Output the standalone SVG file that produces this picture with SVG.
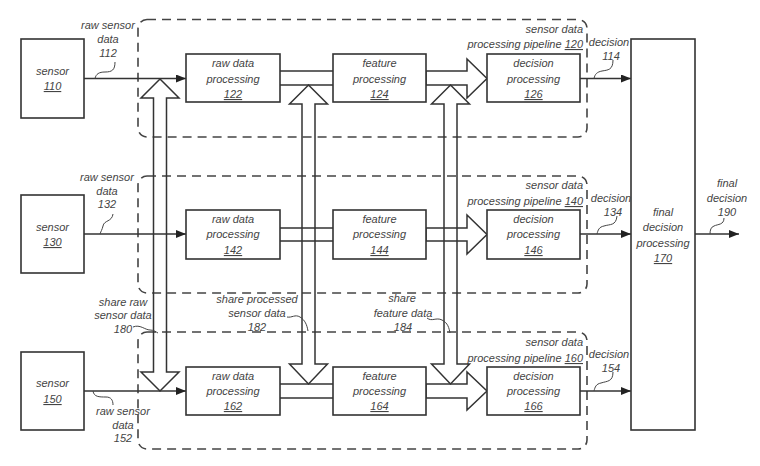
<svg xmlns="http://www.w3.org/2000/svg" width="760" height="466" viewBox="0 0 760 466">
<defs>
<style>
.box{fill:#fff;stroke:#333;stroke-width:1.6}
.pipe{fill:none;stroke:#444;stroke-width:1.6;stroke-dasharray:9 6}
.fat{fill:none;stroke:#333;stroke-width:1.5;stroke-linejoin:miter}
.ln{fill:none;stroke:#333;stroke-width:1.4}
.lead{fill:none;stroke:#444;stroke-width:1}
text{font-family:"Liberation Sans",Arial,sans-serif;font-size:11px;font-style:italic;fill:#444;text-anchor:middle}
.r{text-anchor:end}
.u{text-decoration:underline}
</style>
<marker id="ah" viewBox="0 0 10 8" refX="10" refY="4" markerWidth="11" markerHeight="8" orient="auto" markerUnits="userSpaceOnUse"><path d="M0,0 L10,4 L0,8 z" fill="#222"/></marker>
</defs>
<rect width="760" height="466" fill="#fff"/>

<g id="pipeline120"><rect class="pipe" x="138" y="19.5" width="449" height="117.5" rx="9"/>
<text class="r" x="583" y="33">sensor data</text>
<text class="r" x="583" y="48">processing pipeline <tspan class="u">120</tspan></text></g>
<g id="pipeline140"><rect class="pipe" x="138" y="176" width="449" height="117" rx="9"/>
<text class="r" x="583" y="189">sensor data</text>
<text class="r" x="583" y="205">processing pipeline <tspan class="u">140</tspan></text></g>
<g id="pipeline160"><rect class="pipe" x="138" y="332" width="449" height="117" rx="9"/>
<text class="r" x="583" y="346">sensor data</text>
<text class="r" x="583" y="362">processing pipeline <tspan class="u">160</tspan></text></g>

<g id="connectors">
<line class="ln" x1="84" y1="78.5" x2="186" y2="78.5" marker-end="url(#ah)"/>
<line class="ln" x1="84" y1="234" x2="186" y2="234" marker-end="url(#ah)"/>
<line class="ln" x1="84" y1="391" x2="186" y2="391" marker-end="url(#ah)"/>
<line class="ln" x1="580" y1="78.5" x2="631" y2="78.5" marker-end="url(#ah)"/>
<line class="ln" x1="580" y1="234" x2="631" y2="234" marker-end="url(#ah)"/>
<line class="ln" x1="580" y1="391" x2="631" y2="391" marker-end="url(#ah)"/>
<line class="ln" x1="695" y1="234" x2="739" y2="234" marker-end="url(#ah)"/>
<!-- fat horizontal bands -->
<path class="fat" d="M280,71 H333 M280,85 H333"/>
<path class="fat" d="M280,228 H333 M280,241 H333"/>
<path class="fat" d="M280,384 H333 M280,398 H333"/>
<polygon class="fat" points="426,71 467,71 467,59 487,78.5 467,98 467,85 426,85"/>
<polygon class="fat" points="426,228 467,228 467,215 487,234.5 467,254 467,241 426,241"/>
<polygon class="fat" points="426,384 467,384 467,372 487,391 467,410 467,398 426,398"/>
<!-- vertical double arrows -->
<polygon class="fat" points="160,79 179,98 166.5,98 166.5,372 179,372 160,391 141,372 153.5,372 153.5,98 141,98"/>
<polygon class="fat" points="308.5,85 327.5,104 315,104 315,364 327.5,364 308.5,384 289.5,364 302,364 302,104 289.5,104"/>
<polygon class="fat" points="450.5,85 469.5,104 457,104 457,364 469.5,364 450.5,384 431.5,364 444,364 444,104 431.5,104"/>
<!-- leaders -->
<path class="lead" d="M115,62 C115,70 112,72 105,72 C99,72 96,74 95,78.5"/>
<path class="lead" d="M113,214 C112,222 104,220 103,226 C102,230 101,231 100,234"/>
<path class="lead" d="M93,391 C94,397 99,397 106,397 C111,397 113,400 113,405"/>
<path class="lead" d="M613,60 C613,70 608,70 602,71 C597,72 595,74 594,78.5"/>
<path class="lead" d="M617,216 C616,226 610,224 604,226 C599,227 598,230 597,234"/>
<path class="lead" d="M613,372 C613,382 607,381 601,383 C596,384 595,387 594,391"/>
<path class="lead" d="M724,218 C724,225 718,224 714,226 C711,227 710,230 710,234"/>
<path class="lead" d="M133,327 C140,324 145,330 150,330 C154,330 156,332 158,333"/>
<path class="lead" d="M287,317 C292,318 295,314 300,317 C305,320 307,325 308,331"/>
<path class="lead" d="M427,318 C432,322 436,317 442,320 C448,323 449,328 450,333"/>
</g>

<g id="sensor110"><rect class="box" x="21" y="39" width="63" height="79"/><text x="52.5" y="75">sensor</text><text class="u" x="52.5" y="90">110</text></g>
<g id="sensor130"><rect class="box" x="21" y="195" width="63" height="78"/><text x="52.5" y="231">sensor</text><text class="u" x="52.5" y="246">130</text></g>
<g id="sensor150"><rect class="box" x="21" y="352" width="63" height="78"/><text x="52.5" y="387">sensor</text><text class="u" x="52.5" y="403">150</text></g>

<g id="raw122"><rect class="box" x="186" y="54" width="94" height="48"/><text x="233" y="67">raw data</text><text x="233" y="83">processing</text><text class="u" x="233" y="98">122</text></g>
<g id="feat124"><rect class="box" x="333" y="54" width="93" height="48"/><text x="379.5" y="67">feature</text><text x="379.5" y="83">processing</text><text class="u" x="379.5" y="98">124</text></g>
<g id="dec126"><rect class="box" x="487" y="54" width="93" height="48"/><text x="533.5" y="67">decision</text><text x="533.5" y="83">processing</text><text class="u" x="533.5" y="98">126</text></g>

<g id="raw142"><rect class="box" x="186" y="210" width="94" height="49"/><text x="233" y="223">raw data</text><text x="233" y="238">processing</text><text class="u" x="233" y="254">142</text></g>
<g id="feat144"><rect class="box" x="333" y="210" width="93" height="49"/><text x="379.5" y="223">feature</text><text x="379.5" y="238">processing</text><text class="u" x="379.5" y="254">144</text></g>
<g id="dec146"><rect class="box" x="487" y="210" width="93" height="49"/><text x="533.5" y="223">decision</text><text x="533.5" y="238">processing</text><text class="u" x="533.5" y="254">146</text></g>

<g id="raw162"><rect class="box" x="186" y="367" width="94" height="48"/><text x="233" y="380">raw data</text><text x="233" y="395">processing</text><text class="u" x="233" y="410">162</text></g>
<g id="feat164"><rect class="box" x="333" y="367" width="93" height="48"/><text x="379.5" y="380">feature</text><text x="379.5" y="395">processing</text><text class="u" x="379.5" y="410">164</text></g>
<g id="dec166"><rect class="box" x="487" y="367" width="93" height="48"/><text x="533.5" y="380">decision</text><text x="533.5" y="395">processing</text><text class="u" x="533.5" y="410">166</text></g>

<g id="final170"><rect class="box" x="631" y="39" width="64" height="391"/><text x="663" y="216">final</text><text x="663" y="231">decision</text><text x="663" y="247">processing</text><text class="u" x="663" y="262">170</text></g>

<g id="labels">
<text x="108" y="29">raw sensor</text><text x="108" y="43">data</text><text x="108" y="57">112</text>
<text x="107" y="181">raw sensor</text><text x="107" y="195">data</text><text x="107" y="208">132</text>
<text x="123" y="415">raw sensor</text><text x="123" y="429">data</text><text x="123" y="442">152</text>
<text x="609" y="46">decision</text><text x="611" y="60">114</text>
<text x="611" y="202">decision</text><text x="613" y="216">134</text>
<text x="609" y="358">decision</text><text x="611" y="372">154</text>
<text x="727" y="187">final</text><text x="727" y="202">decision</text><text x="727" y="216">190</text>
<text x="123" y="306">share raw</text><text x="123" y="319">sensor data</text><text x="123" y="333">180</text>
<text x="257" y="303">share processed</text><text x="257" y="317">sensor data</text><text x="257" y="331">182</text>
<text x="402" y="302">share</text><text x="403" y="317">feature data</text><text x="403" y="331">184</text>
</g>
</svg>
